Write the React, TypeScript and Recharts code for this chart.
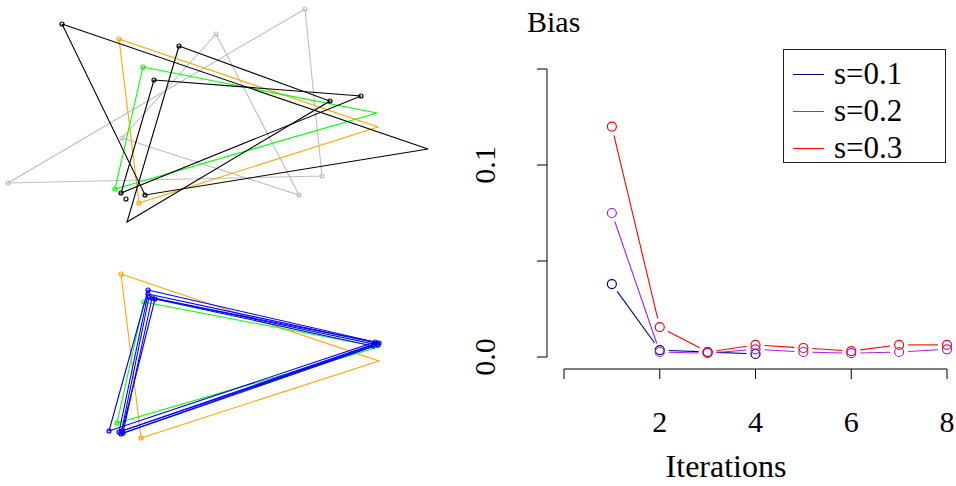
import React from "react";
import { ScatterChart, Scatter, XAxis, YAxis } from "recharts";

type Vertex = [number, number, number];

// left panel: estimated triangle vertices (x, y, drawn point?)
const grayA: Vertex[] = [[305, 9, 1], [322, 176, 1], [8, 183, 1]];
const grayB: Vertex[] = [[216, 34, 1], [299, 195, 1], [122, 138, 1]];
const orangeTop: Vertex[] = [[119, 39, 1], [378, 127, 0], [139, 203, 1]];
const greenTop: Vertex[] = [[143, 67, 1], [377, 113, 0], [115, 189, 1]];
const blackA: Vertex[] = [[62, 24, 1], [428, 149, 0], [145, 195, 1]];
const blackB: Vertex[] = [[179, 46, 1], [330, 101, 1], [127, 222, 0]];
const blackC: Vertex[] = [[154, 80, 1], [361, 96, 1], [121, 193, 1]];
const blackLone: Vertex[] = [[126, 199, 1]];

const orangeBottom: Vertex[] = [[121, 274, 1], [379, 361, 0], [141, 438, 1]];
const greenBottom: Vertex[] = [[144, 302, 1], [379, 347, 0], [117, 423, 1]];
const blue1: Vertex[] = [[148, 290, 1], [375, 342, 1], [109, 431, 1]];
const blue2: Vertex[] = [[148, 294, 1], [377, 343, 1], [119, 432, 1]];
const blue3: Vertex[] = [[149, 297, 1], [378, 345, 1], [121, 434, 1]];
const blue4: Vertex[] = [[152, 298, 1], [379, 343, 1], [123, 433, 1]];
const blue5: Vertex[] = [[155, 299, 1], [373, 346, 1], [122, 431, 1]];

// right panel: bias by iteration
const iterations = [1, 2, 3, 4, 5, 6, 7, 8];
const biasS01 = [0.038, 0.0036, 0.0026, 0.0016];
const biasS02 = [0.075, 0.0026, 0.002, 0.004, 0.0026, 0.002, 0.0026, 0.004];
const biasS03 = [0.12, 0.0156, 0.0026, 0.0063, 0.0047, 0.0031, 0.0063, 0.0063];

const FONT = "'Liberation Serif', serif";

const polygons: { pts: Vertex[]; color: string; closed: boolean }[] = [
  { pts: grayA, color: "#BEBEBE", closed: true },
  { pts: grayB, color: "#BEBEBE", closed: true },
  { pts: orangeTop, color: "#FFA500", closed: true },
  { pts: greenTop, color: "#00FF00", closed: true },
  { pts: blackA, color: "#000000", closed: true },
  { pts: blackB, color: "#000000", closed: true },
  { pts: blackC, color: "#000000", closed: true },
  { pts: blackLone, color: "#000000", closed: false },
  { pts: orangeBottom, color: "#FFA500", closed: true },
  { pts: greenBottom, color: "#00FF00", closed: true },
  { pts: blue1, color: "#0000FF", closed: true },
  { pts: blue2, color: "#0000FF", closed: true },
  { pts: blue3, color: "#0000FF", closed: true },
  { pts: blue4, color: "#0000FF", closed: true },
  { pts: blue5, color: "#0000FF", closed: true },
];

const toRows = (pts: Vertex[], closed: boolean) => {
  const rows = pts.map(([x, y, m]) => ({ x, y, mark: m === 1 }));
  return closed ? [...rows, { ...rows[0], mark: false }] : rows;
};

const series = [
  { name: "s=0.1", color: "#000080", values: biasS01 },
  { name: "s=0.2", color: "#A020F0", values: biasS02 },
  { name: "s=0.3", color: "#FF0000", values: biasS03 },
];

// R type="b": segments stop short of each point
const GAP = 9;
const gappedLine = (color: string) => (lp: any) => {
  const pts: { x: number; y: number }[] = lp.points || [];
  const segs: React.ReactElement[] = [];
  for (let i = 0; i < pts.length - 1; i++) {
    const a = pts[i];
    const b = pts[i + 1];
    const dx = b.x - a.x;
    const dy = b.y - a.y;
    const len = Math.hypot(dx, dy);
    if (len <= 2 * GAP) continue;
    const ux = dx / len;
    const uy = dy / len;
    segs.push(
      <line
        key={i}
        x1={a.x + ux * GAP}
        y1={a.y + uy * GAP}
        x2={b.x - ux * GAP}
        y2={b.y - uy * GAP}
        stroke={color}
        strokeWidth={1.1}
      />
    );
  }
  return <g>{segs}</g>;
};

const YTick = (props: any) => {
  const { x, y, payload } = props;
  const v = payload.value;
  if (v !== 0 && v !== 0.1) return <g />;
  return (
    <text
      x={x}
      y={y}
      textAnchor="middle"
      dominantBaseline="central"
      transform={`rotate(-90, ${x}, ${y})`}
      fontFamily={FONT}
      fontSize={30}
      fill="#000"
    >
      {v.toFixed(1)}
    </text>
  );
};

export default function App() {
  return (
    <div
      style={{
        position: "absolute",
        left: 0,
        top: 0,
        width: 956,
        height: 486,
        background: "#fff",
        fontFamily: FONT,
      }}
    >
      <div style={{ position: "absolute", left: 0, top: 0 }}>
        <ScatterChart
          width={440}
          height={486}
          margin={{ top: 0, right: 0, bottom: 0, left: 0 }}
        >
          <XAxis type="number" dataKey="x" domain={[0, 440]} hide />
          <YAxis type="number" dataKey="y" domain={[0, 486]} reversed hide />
          {polygons.map((p, i) => (
            <Scatter
              key={i}
              data={toRows(p.pts, p.closed)}
              line={p.closed ? { stroke: p.color, strokeWidth: 1.1 } : false}
              lineType="joint"
              isAnimationActive={false}
              shape={(sp: any) =>
                sp.payload && sp.payload.mark ? (
                  <circle
                    cx={sp.cx}
                    cy={sp.cy}
                    r={2}
                    fill="none"
                    stroke={p.color}
                    strokeWidth={1.2}
                  />
                ) : (
                  <g />
                )
              }
            />
          ))}
        </ScatterChart>
      </div>

      <div
        style={{
          position: "absolute",
          left: 527,
          top: 5,
          fontSize: 30,
          lineHeight: "34px",
        }}
      >
        Bias
      </div>

      <div style={{ position: "absolute", left: 460, top: 0 }}>
        <ScatterChart
          width={496}
          height={486}
          margin={{ top: 69, right: 9, bottom: 0, left: 20 }}
        >
          <XAxis
            type="number"
            dataKey="it"
            domain={[0, 8]}
            ticks={[0, 2, 4, 6, 8]}
            padding={{ left: 17, right: 0 }}
            height={117}
            tickSize={10}
            tickMargin={32}
            tickFormatter={(v: number) => (v === 0 ? "" : String(v))}
            tick={{ fontFamily: FONT, fontSize: 30, fill: "#000" }}
            axisLine={{ stroke: "#000", strokeDasharray: "0 17 383" }}
            tickLine={{ stroke: "#000" }}
          />
          <YAxis
            type="number"
            dataKey="v"
            domain={[0, 0.15]}
            ticks={[0, 0.05, 0.1, 0.15]}
            padding={{ top: 0, bottom: 12 }}
            width={67}
            tickSize={10}
            tickMargin={53}
            tick={<YTick />}
            axisLine={{ stroke: "#000", strokeDasharray: "288 100" }}
            tickLine={{ stroke: "#000" }}
          />
          {series.map((s) => (
            <Scatter
              key={s.name}
              name={s.name}
              data={s.values.map((v, i) => ({ it: iterations[i], v }))}
              line={gappedLine(s.color)}
              lineType="joint"
              isAnimationActive={false}
              shape={(sp: any) => (
                <circle
                  cx={sp.cx}
                  cy={sp.cy}
                  r={4.5}
                  fill="none"
                  stroke={s.color}
                  strokeWidth={1.2}
                />
              )}
            />
          ))}
        </ScatterChart>
      </div>

      <div
        style={{
          position: "absolute",
          left: 606,
          width: 240,
          top: 448,
          textAlign: "center",
          fontSize: 32,
          lineHeight: "36px",
        }}
      >
        Iterations
      </div>

      <div
        style={{
          position: "absolute",
          left: 783,
          top: 49,
          width: 163,
          height: 114,
          border: "1px solid #222",
          boxSizing: "border-box",
          background: "#fff",
        }}
      >
        {series.map((s, i) => (
          <div
            key={s.name}
            style={{
              position: "absolute",
              left: 9,
              top: 6 + i * 37,
              height: 36,
              display: "flex",
              alignItems: "center",
              fontSize: 31,
            }}
          >
            <span
              style={{
                display: "inline-block",
                width: 31,
                height: 0,
                borderTop: `1px solid ${s.color}`,
                marginRight: 10,
              }}
            />
            {s.name}
          </div>
        ))}
      </div>
    </div>
  );
}
